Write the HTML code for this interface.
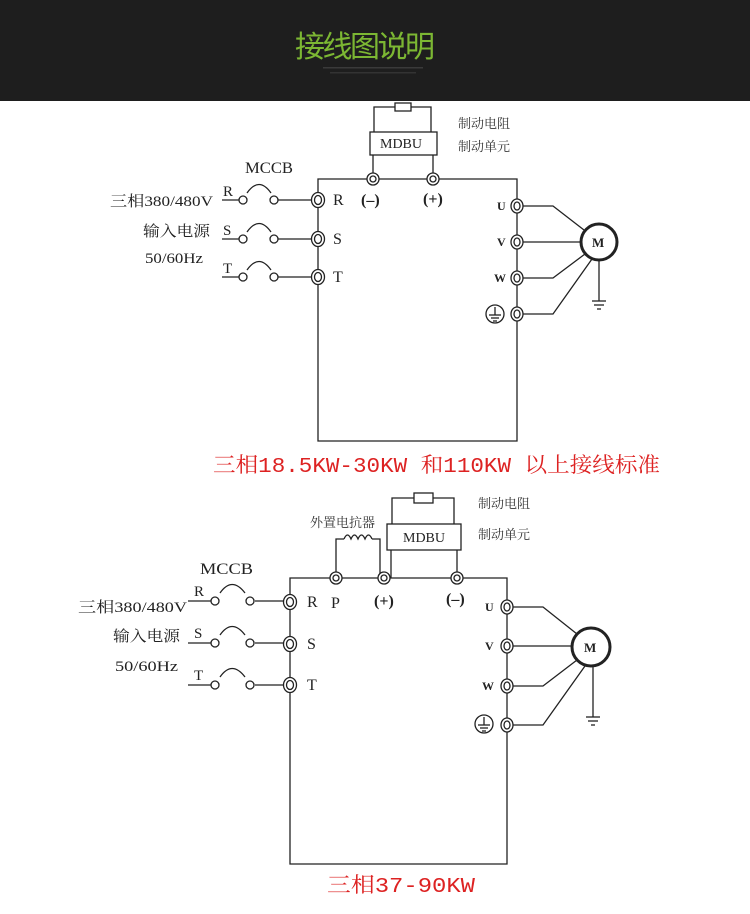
<!DOCTYPE html>
<html><head><meta charset="utf-8"><style>
html,body{margin:0;padding:0;width:750px;height:914px;overflow:hidden;background:#fff}
svg{display:block}
.s{font-family:"Liberation Serif","Noto Serif CJK SC",serif;fill:#222}
.k{font-family:"Noto Serif CJK SC","Liberation Serif",serif;fill:#333}
</style></head><body>
<svg width="750" height="914" viewBox="0 0 750 914" xmlns="http://www.w3.org/2000/svg">
<rect x="0" y="0" width="750" height="101" fill="#1e1e1e"/>
<text x="295" y="57" font-size="30" fill="#7cb733" font-family="Noto Sans CJK SC, sans-serif" textLength="140">接线图说明</text>
<rect x="323" y="67" width="100" height="1.5" fill="#3a3a3a"/>
<rect x="330" y="72" width="86" height="1.5" fill="#333"/>

<g stroke="#222" stroke-width="1.3" fill="none">
<!-- Diagram 1 -->
<polyline points="318,193 318,179 517,179 517,199"/>
<line x1="318" y1="207" x2="318" y2="232"/><line x1="318" y1="246" x2="318" y2="270"/>
<polyline points="318,284 318,441 517,441 517,321"/>
<line x1="517" y1="213" x2="517" y2="235"/><line x1="517" y1="249" x2="517" y2="271"/><line x1="517" y1="285" x2="517" y2="307"/>
<rect x="370" y="132" width="67" height="23"/>
<polyline points="374,132 374,107 395,107"/><polyline points="411,107 431,107 431,132"/>
<rect x="395" y="103" width="16" height="8"/>
<line x1="373" y1="155" x2="373" y2="173"/><line x1="433" y1="155" x2="433" y2="173"/>
<!-- MCCB 1 -->
<line x1="222" y1="200" x2="239" y2="200"/><line x1="278" y1="200" x2="311" y2="200"/>
<line x1="222" y1="239" x2="239" y2="239"/><line x1="278" y1="239" x2="311" y2="239"/>
<line x1="222" y1="277" x2="239" y2="277"/><line x1="278" y1="277" x2="311" y2="277"/>
<path d="M247,193 Q259,176 271,193"/><path d="M247,232 Q259,215 271,232"/><path d="M247,270 Q259,253 271,270"/>
<!-- motor 1 -->
<polyline points="523,206 553,206 584,230"/><line x1="523" y1="242" x2="581" y2="242"/>
<polyline points="523,278 553,278 585,254"/><polyline points="523,314 553,314 592,259"/>
<line x1="599" y1="260" x2="599" y2="301"/>
<line x1="592" y1="301" x2="606" y2="301"/><line x1="594" y1="305" x2="604" y2="305"/><line x1="597" y1="309" x2="601" y2="309"/>

<!-- Diagram 2 -->
<polyline points="290,595 290,578 330,578"/><line x1="342" y1="578" x2="378" y2="578"/><line x1="390" y1="578" x2="451" y2="578"/>
<polyline points="463,578 507,578 507,600"/>
<line x1="290" y1="609" x2="290" y2="637"/><line x1="290" y1="651" x2="290" y2="678"/>
<polyline points="290,692 290,864 507,864 507,732"/>
<line x1="507" y1="614" x2="507" y2="639"/><line x1="507" y1="653" x2="507" y2="679"/><line x1="507" y1="693" x2="507" y2="718"/>
<rect x="387" y="524" width="74" height="26"/>
<polyline points="392,524 392,498 414,498"/><polyline points="433,498 454,498 454,524"/>
<rect x="414" y="493" width="19" height="10"/>
<line x1="391" y1="550" x2="391" y2="578"/><line x1="457" y1="550" x2="457" y2="572"/>
<polyline points="336,572 336,539 344,539"/><polyline points="372,539 380,539 380,578"/>
<path d="M344,539 q3.5,-8 7,0 q3.5,-8 7,0 q3.5,-8 7,0 q3.5,-8 7,0"/>
<!-- MCCB 2 -->
<line x1="188" y1="601" x2="211" y2="601"/><line x1="255" y1="601" x2="283" y2="601"/>
<line x1="188" y1="643" x2="211" y2="643"/><line x1="255" y1="643" x2="283" y2="643"/>
<line x1="188" y1="685" x2="211" y2="685"/><line x1="255" y1="685" x2="283" y2="685"/>
<path d="M220,593 Q232,576 245,593"/><path d="M220,635 Q232,618 245,635"/><path d="M220,677 Q232,660 245,677"/>
<!-- motor 2 -->
<polyline points="513,607 543,607 577,634"/><line x1="513" y1="646" x2="572" y2="646"/>
<polyline points="513,686 543,686 577,660"/><polyline points="513,725 543,725 585,666"/>
<line x1="593" y1="666" x2="593" y2="717"/>
<line x1="586" y1="717" x2="600" y2="717"/><line x1="588" y1="721" x2="598" y2="721"/><line x1="591" y1="725" x2="595" y2="725"/>
</g>

<g stroke="#222" fill="#fff">
<g stroke-width="1.3">
<ellipse cx="318" cy="200" rx="6.5" ry="7.5"/><ellipse cx="318" cy="200" rx="3.5" ry="4.5"/>
<ellipse cx="318" cy="239" rx="6.5" ry="7.5"/><ellipse cx="318" cy="239" rx="3.5" ry="4.5"/>
<ellipse cx="318" cy="277" rx="6.5" ry="7.5"/><ellipse cx="318" cy="277" rx="3.5" ry="4.5"/>
<ellipse cx="517" cy="206" rx="6" ry="7"/><ellipse cx="517" cy="206" rx="3" ry="4"/>
<ellipse cx="517" cy="242" rx="6" ry="7"/><ellipse cx="517" cy="242" rx="3" ry="4"/>
<ellipse cx="517" cy="278" rx="6" ry="7"/><ellipse cx="517" cy="278" rx="3" ry="4"/>
<ellipse cx="517" cy="314" rx="6" ry="7"/><ellipse cx="517" cy="314" rx="3" ry="4"/>
<circle cx="373" cy="179" r="6"/><circle cx="373" cy="179" r="3"/>
<circle cx="433" cy="179" r="6"/><circle cx="433" cy="179" r="3"/>
<circle cx="243" cy="200" r="4"/><circle cx="274" cy="200" r="4"/>
<circle cx="243" cy="239" r="4"/><circle cx="274" cy="239" r="4"/>
<circle cx="243" cy="277" r="4"/><circle cx="274" cy="277" r="4"/>
</g>
<circle cx="599" cy="242" r="18" stroke-width="3"/>
<circle cx="495" cy="314" r="9" stroke-width="1.3"/>
<g stroke-width="1.3">
<ellipse cx="290" cy="602" rx="6.5" ry="7.5"/><ellipse cx="290" cy="602" rx="3.5" ry="4.5"/>
<ellipse cx="290" cy="644" rx="6.5" ry="7.5"/><ellipse cx="290" cy="644" rx="3.5" ry="4.5"/>
<ellipse cx="290" cy="685" rx="6.5" ry="7.5"/><ellipse cx="290" cy="685" rx="3.5" ry="4.5"/>
<ellipse cx="507" cy="607" rx="6" ry="7"/><ellipse cx="507" cy="607" rx="3" ry="4"/>
<ellipse cx="507" cy="646" rx="6" ry="7"/><ellipse cx="507" cy="646" rx="3" ry="4"/>
<ellipse cx="507" cy="686" rx="6" ry="7"/><ellipse cx="507" cy="686" rx="3" ry="4"/>
<ellipse cx="507" cy="725" rx="6" ry="7"/><ellipse cx="507" cy="725" rx="3" ry="4"/>
<circle cx="336" cy="578" r="6"/><circle cx="336" cy="578" r="3"/>
<circle cx="384" cy="578" r="6"/><circle cx="384" cy="578" r="3"/>
<circle cx="457" cy="578" r="6"/><circle cx="457" cy="578" r="3"/>
<circle cx="215" cy="601" r="4"/><circle cx="250" cy="601" r="4"/>
<circle cx="215" cy="643" r="4"/><circle cx="250" cy="643" r="4"/>
<circle cx="215" cy="685" r="4"/><circle cx="250" cy="685" r="4"/>
</g>
<circle cx="591" cy="647" r="19" stroke-width="3"/>
<circle cx="484" cy="724" r="9" stroke-width="1.3"/>
</g>
<g stroke="#222" stroke-width="1.3">
<line x1="495" y1="307" x2="495" y2="315"/><line x1="489" y1="315" x2="501" y2="315"/><line x1="491" y1="318" x2="499" y2="318"/><line x1="493" y1="321" x2="497" y2="321"/>
<line x1="484" y1="717" x2="484" y2="725"/><line x1="478" y1="725" x2="490" y2="725"/><line x1="480" y1="728" x2="488" y2="728"/><line x1="482" y1="731" x2="486" y2="731"/>
</g>

<g class="s" font-size="16">
<text x="245" y="173" textLength="48" lengthAdjust="spacingAndGlyphs">MCCB</text>
<text x="223" y="196" font-size="15">R</text>
<text x="223" y="235" font-size="15">S</text>
<text x="223" y="273" font-size="15">T</text>
<text x="333" y="205">R</text><text x="333" y="244">S</text><text x="333" y="282">T</text>
<text x="361" y="205" font-weight="bold">(–)</text><text x="423" y="204" font-weight="bold">(+)</text>
<text x="380" y="148" font-size="14">MDBU</text>
<text x="497" y="210" font-size="12" font-weight="bold">U</text>
<text x="497" y="246" font-size="12" font-weight="bold">V</text>
<text x="494" y="282" font-size="12" font-weight="bold">W</text>
<text x="592" y="247" font-size="13" font-weight="bold">M</text>
<text x="110" y="206" font-size="15" textLength="103" lengthAdjust="spacingAndGlyphs">三相380/480V</text>
<text x="143" y="236" font-size="15" textLength="67" lengthAdjust="spacingAndGlyphs">输入电源</text>
<text x="145" y="263" font-size="15" textLength="58" lengthAdjust="spacingAndGlyphs">50/60Hz</text>
</g>
<g class="k" font-size="13"><text x="458" y="128">制动电阻</text><text x="458" y="151">制动单元</text></g>
<text x="213" y="472" font-size="21" fill="#dd2222" font-family="Liberation Mono, Noto Serif CJK SC, monospace" textLength="447" lengthAdjust="spacingAndGlyphs">三相18.5KW-30KW 和110KW 以上接线标准</text>

<g class="s" font-size="16">
<text x="200" y="574" textLength="53" lengthAdjust="spacingAndGlyphs">MCCB</text>
<text x="194" y="596" font-size="15">R</text>
<text x="194" y="638" font-size="15">S</text>
<text x="194" y="680" font-size="15">T</text>
<text x="307" y="607">R</text><text x="331" y="608">P</text><text x="307" y="649">S</text><text x="307" y="690">T</text>
<text x="374" y="606" font-weight="bold">(+)</text><text x="446" y="604" font-weight="bold">(–)</text>
<text x="403" y="542" font-size="14">MDBU</text>
<text x="485" y="611" font-size="12" font-weight="bold">U</text>
<text x="485" y="650" font-size="12" font-weight="bold">V</text>
<text x="482" y="690" font-size="12" font-weight="bold">W</text>
<text x="584" y="652" font-size="13" font-weight="bold">M</text>
<text x="78" y="612" font-size="15" textLength="109" lengthAdjust="spacingAndGlyphs">三相380/480V</text>
<text x="113" y="641" font-size="15" textLength="67" lengthAdjust="spacingAndGlyphs">输入电源</text>
<text x="115" y="671" font-size="15" textLength="63" lengthAdjust="spacingAndGlyphs">50/60Hz</text>
</g>
<g class="k" font-size="13"><text x="310" y="527">外置电抗器</text><text x="478" y="508">制动电阻</text><text x="478" y="539">制动单元</text></g>
<text x="327" y="892" font-size="21" fill="#dd2222" font-family="Liberation Mono, Noto Serif CJK SC, monospace" textLength="148" lengthAdjust="spacingAndGlyphs">三相37-90KW</text>
</svg>
</body></html>
